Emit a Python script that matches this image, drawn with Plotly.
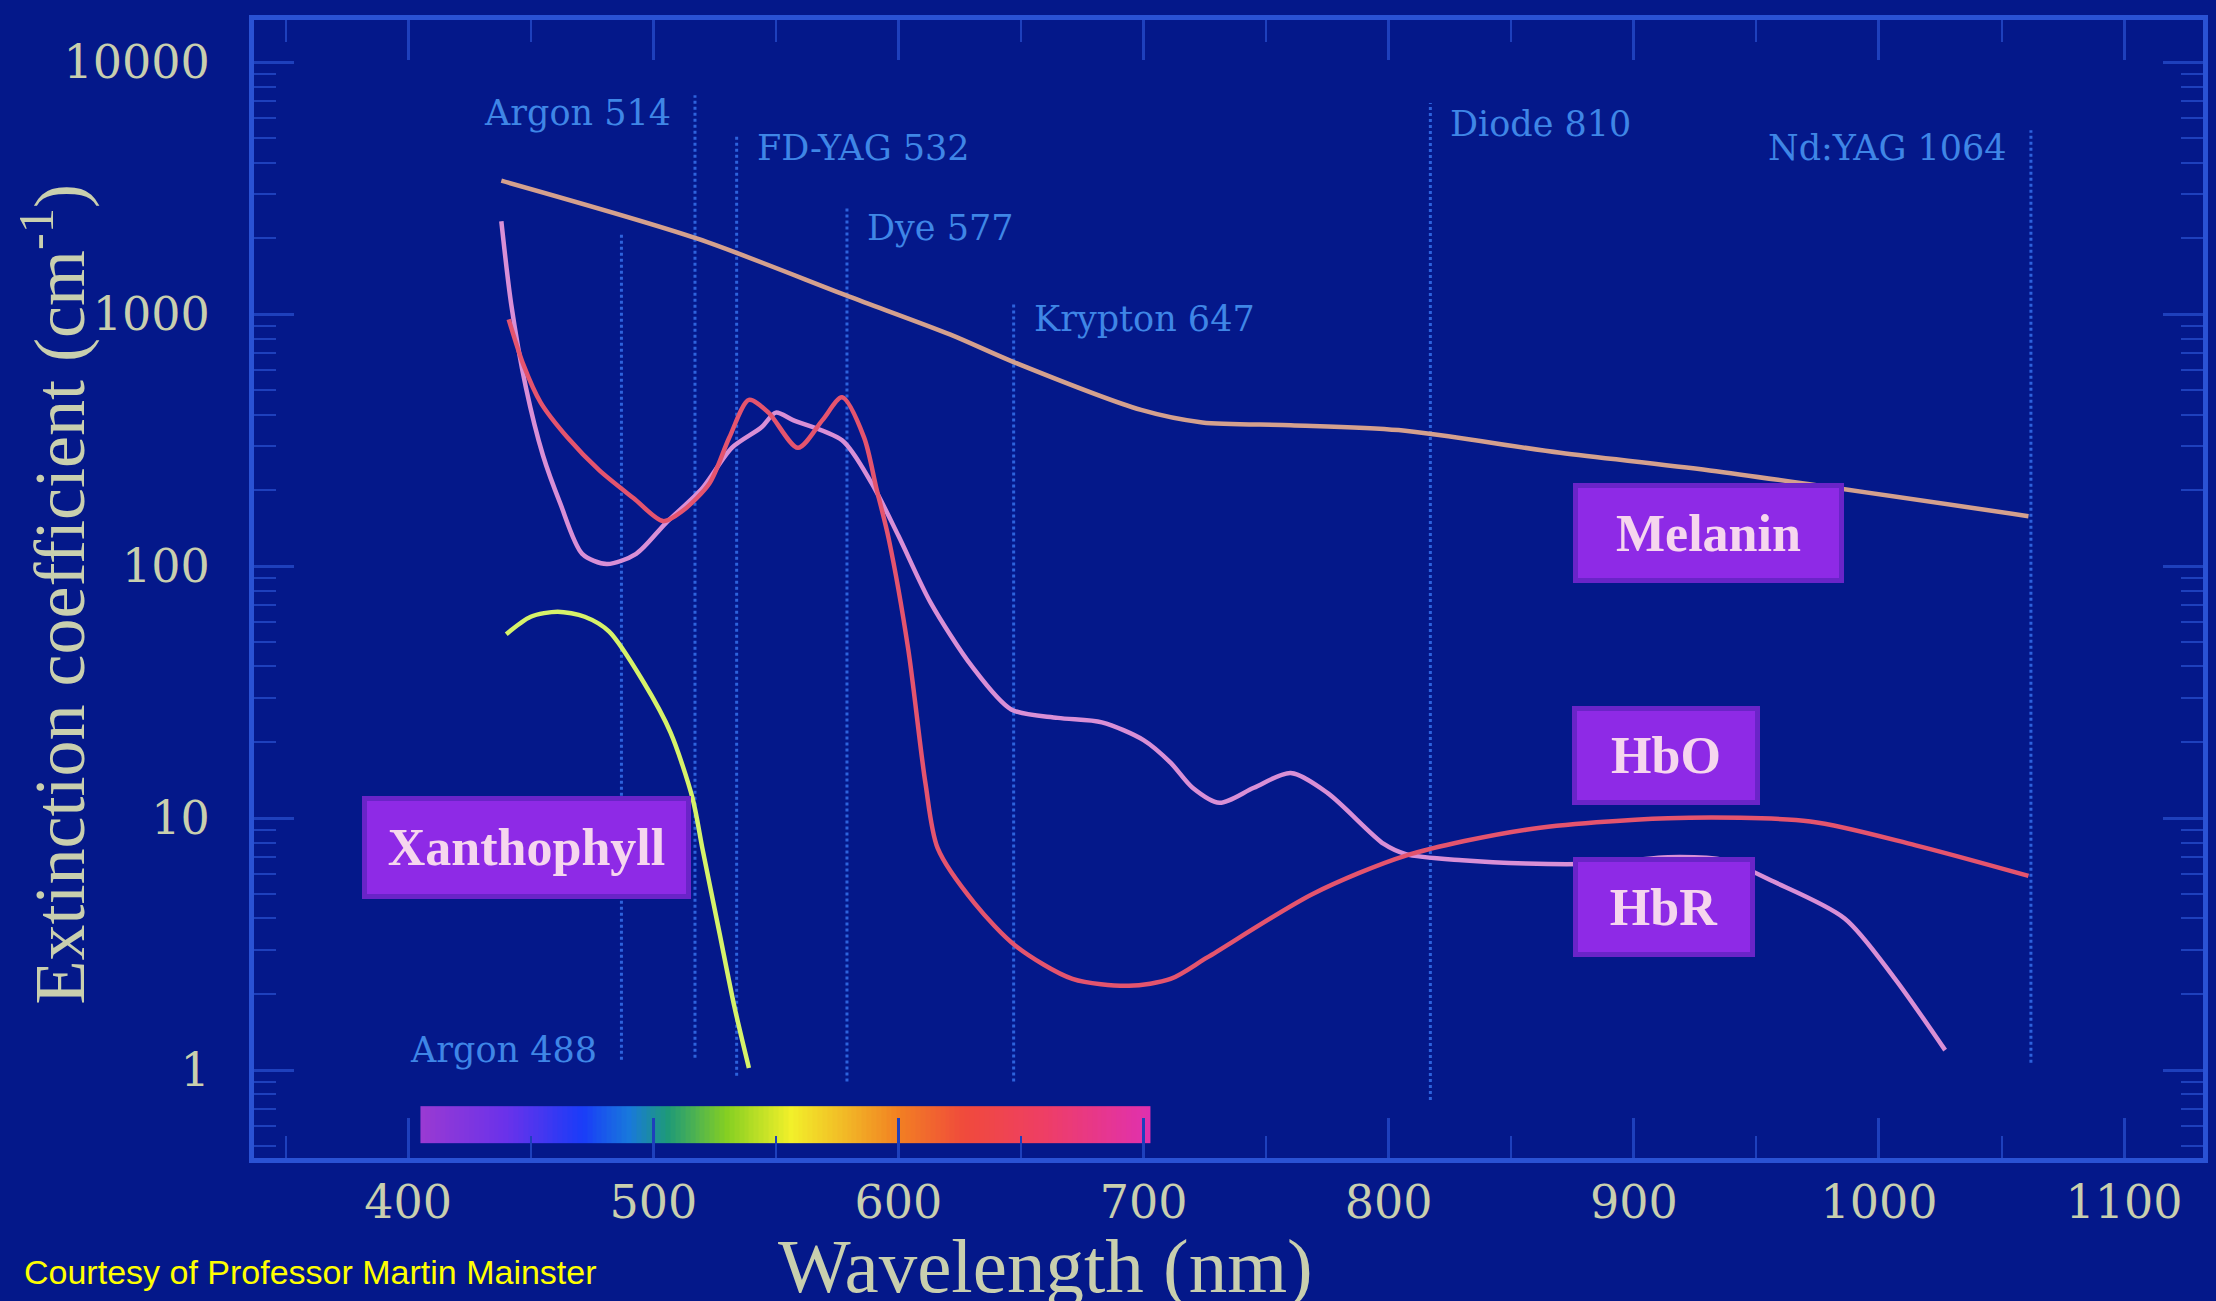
import numpy as np
import plotly.graph_objects as go

# ---------------- data ----------------
melanin_nm = [438, 518, 580, 621, 647, 699, 724, 760, 804, 870, 931, 1061]
melanin_val = [3390, 1995, 1175, 832, 646, 417, 372, 363, 347, 282, 240, 158]

hbo2_nm = [441, 447, 454, 465, 478, 492, 504, 512, 523, 531, 539, 547, 559, 569, 577,
           586, 591, 596, 604, 611, 616, 631, 648, 671, 694, 711, 726, 769, 807, 856,
           914, 972, 1015, 1061]
hbo2_val = [955, 631, 447, 324, 240, 186, 151, 166, 214, 324, 457, 407, 295, 380, 468,
            324, 204, 129, 46.8, 13.8, 7.6, 4.6, 3.1, 2.3, 2.16, 2.3, 2.8, 5.0, 7.1, 9.0,
            10.0, 9.7, 7.8, 5.9]

hbr_nm = [438, 442, 448, 455, 462, 471, 481, 493, 505, 520, 532, 544, 550, 557, 577,
          589, 600, 613, 630, 646, 665, 683, 700, 711, 720, 731, 745, 760, 775, 798,
          807, 830, 856, 885, 914, 937, 957, 986, 1006, 1027]
hbr_val = [2340, 1100, 513, 275, 178, 112, 102, 112, 148, 204, 295, 355, 407, 380, 316,
           214, 132, 72, 40, 27, 25, 24, 20.4, 16.6, 13.2, 11.5, 13.2, 15.1, 12.6, 7.9,
           7.2, 6.8, 6.6, 6.6, 7.0, 6.8, 5.6, 4.0, 2.34, 1.2]

xan_nm = [440, 450, 461, 472, 482, 496, 507, 516, 520, 527, 533, 539]
xan_val = [53.7, 63, 66, 63, 55, 34.7, 21.9, 12.0, 7.6, 3.5, 1.8, 1.02]

# laser lines: drawn position (nm), label, vertical extent (values)
laser_nm = [487, 517, 534, 579, 647, 817, 1062]
laser_text = ["Argon 488", "Argon 514", "FD-YAG 532", "Dye 577", "Krypton 647",
              "Diode 810", "Nd:YAG 1064"]
laser_bottom = [1.10, 1.12, 0.95, 0.90, 0.90, 0.76, 1.07]
laser_top = [2090, 7400, 5130, 2630, 1100, 6900, 5370]
laser_label_y = [1.2, 6300, 4570, 2190, 955, 5680, 4570]
laser_label_side = ["left", "left", "right", "right", "right", "right", "left"]

x_ticks = [400, 500, 600, 700, 800, 900, 1000, 1100]
y_ticks = [1, 10, 100, 1000, 10000]

# spectrum bar (nm range and colour stops)
spec_range = [405, 703]
spec_stops_nm = [405, 440, 471, 490, 506, 530, 556, 580, 600, 627, 660, 703]
spec_stops_col = ["#9a3ad2", "#6a32ea", "#1a3cf8", "#1878dc", "#1e9a78", "#86cf22",
                  "#f2f02a", "#f2b426", "#f28022", "#f04a3c", "#ee3e66", "#e030b0"]

# ---------------- style ----------------
BG = "#04188a"
FRAME = "#2a52d4"
TICKC = "#1e40bc"
LABEL = "#c9cfae"
LASER = "#3f86e6"

fig = go.Figure()

# spectrum bar as heatmap
edges = np.arange(spec_range[0], spec_range[1] + 1, 2)
centers = (edges[:-1] + edges[1:]) / 2
lo, hi = spec_range
cscale = [[(w - lo) / (hi - lo), c] for w, c in zip(spec_stops_nm, spec_stops_col)]
fig.add_trace(go.Heatmap(x=edges, y=[0.513, 0.719], z=[centers], colorscale=cscale,
                         zmin=lo, zmax=hi, showscale=False, hoverinfo="skip"))

# laser dotted lines
lx, ly = [], []
for w, b, t in zip(laser_nm, laser_bottom, laser_top):
    lx += [w, w, None]
    ly += [b, t, None]
fig.add_trace(go.Scatter(x=lx, y=ly, mode="lines",
                         line=dict(color="#2d62dc", width=3, dash="dot"),
                         hoverinfo="skip"))

def curve(x, y, color):
    fig.add_trace(go.Scatter(x=x, y=y, mode="lines",
                             line=dict(color=color, width=4.5, shape="spline", smoothing=0.8)))

curve(melanin_nm, melanin_val, "#d4a08e")
curve(hbr_nm, hbr_val, "#d98fd6")
curve(hbo2_nm, hbo2_val, "#e4546e")
curve(xan_nm, xan_val, "#d6f26a")

ann = []
# laser labels
for w, txt, yv, side in zip(laser_nm, laser_text, laser_label_y, laser_label_side):
    ann.append(dict(x=w, y=np.log10(yv), xref="x", yref="y", text=txt, showarrow=False,
                    xanchor="right" if side == "left" else "left",
                    xshift=-22 if side == "left" else 18,
                    font=dict(family="DejaVu Serif", size=35, color=LASER)))

# purple name boxes
boxes = [("Xanthophyll", 448.4, 0.883, 307, 81),
         ("Melanin", 930.4, 2.132, 249, 78),
         ("HbO", 913.3, 1.247, 166, 77),
         ("HbR", 912.5, 0.647, 160, 78)]
for txt, bx, by, bw, bh in boxes:
    ann.append(dict(x=bx, y=by, xref="x", yref="y", text="<b>%s</b>" % txt, showarrow=False,
                    width=bw, height=bh, bgcolor="#8e2ae6", bordercolor="#6a24c8",
                    borderwidth=5, borderpad=6,
                    font=dict(family="Liberation Serif", size=52, color="#f6d6ee")))

# axis titles and credit
ann.append(dict(x=-0.1029, y=0.4956, xref="paper", yref="paper",
                text="Extinction coefficient (cm<sup>-1</sup>)", textangle=-90,
                showarrow=False, xanchor="center", yanchor="middle",
                font=dict(family="Liberation Serif", size=72, color=LABEL)))
ann.append(dict(x=0.406, y=-0.095, xref="paper", yref="paper", text="Wavelength (nm)",
                showarrow=False, xanchor="center", yanchor="middle",
                font=dict(family="Liberation Serif", size=77, color=LABEL)))
ann.append(dict(x=-0.1192, y=-0.1002, xref="paper", yref="paper",
                text="Courtesy of Professor Martin Mainster", showarrow=False,
                xanchor="left", yanchor="middle",
                font=dict(family="Liberation Sans", size=34, color="#ffff00")))

minor_y = [m * 10 ** d for d in range(-1, 5) for m in range(2, 10)]

fig.update_layout(
    width=2216, height=1301,
    margin=dict(l=254, r=8, t=20, b=143),
    paper_bgcolor=BG, plot_bgcolor=BG,
    showlegend=False,
    annotations=ann,
    xaxis=dict(range=[337.1, 1132.2], tickmode="array", tickvals=x_ticks,
               ticktext=[str(v) for v in x_ticks],
               ticks="inside", ticklen=40, tickwidth=3, tickcolor=TICKC,
               minor=dict(dtick=50, tick0=0, ticks="inside", ticklen=22, tickwidth=2,
                          tickcolor=TICKC, showgrid=False),
               showline=True, linecolor=FRAME, linewidth=5, mirror="allticks",
               showgrid=False, zeroline=False, ticklabelstandoff=0,
               tickfont=dict(family="DejaVu Serif", size=46, color=LABEL)),
    yaxis=dict(type="log", range=[-0.349, 4.168], tickmode="array", tickvals=y_ticks,
               ticktext=[str(v) for v in y_ticks],
               ticks="inside", ticklen=40, tickwidth=3, tickcolor=TICKC,
               minor=dict(tickmode="array", tickvals=minor_y, ticks="inside", ticklen=22,
                          tickwidth=2, tickcolor=TICKC, showgrid=False),
               showline=True, linecolor=FRAME, linewidth=5, mirror="allticks",
               showgrid=False, zeroline=False, ticklabelstandoff=30,
               tickfont=dict(family="DejaVu Serif", size=46, color=LABEL)),
)

fig.write_html("out.html")
